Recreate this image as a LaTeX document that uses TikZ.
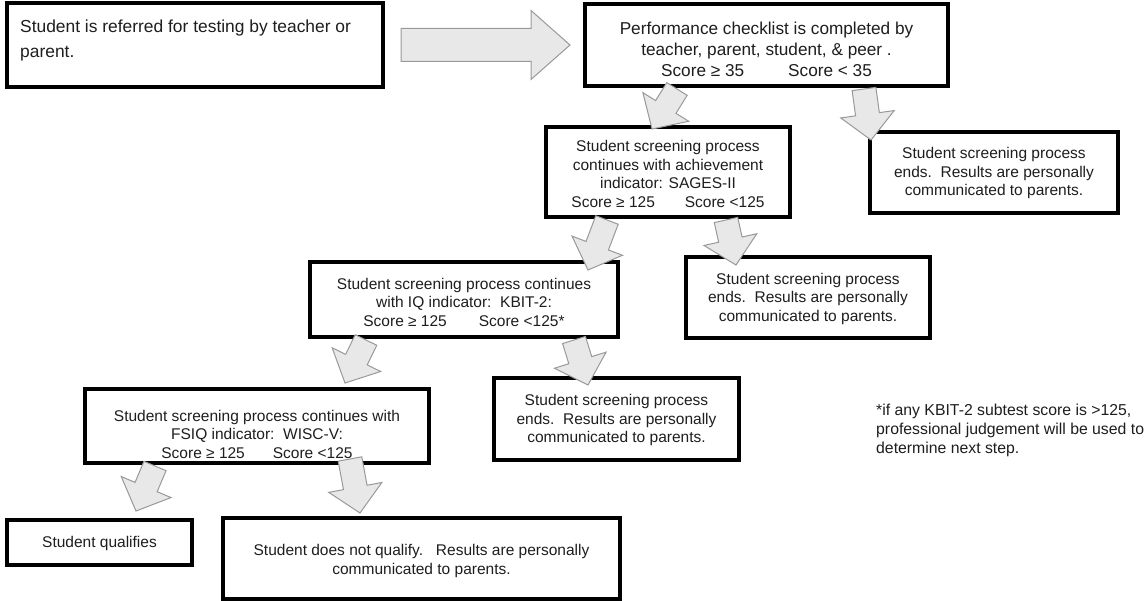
\documentclass[tikz,border=0pt]{standalone}
\usepackage{fontspec}
\setmainfont{Liberation Sans}
\usetikzlibrary{calc}
\definecolor{arrfill}{HTML}{E8E8E8}
\definecolor{arrline}{HTML}{999999}
\definecolor{txtc}{HTML}{1E1E1E}
\tikzset{
  box/.style={draw=black, line width=4pt, fill=white, inner sep=0pt, line join=miter},
  txt/.style={inner sep=0pt, text=txtc, align=center, font=\fontsize{15.5}{18.5}\selectfont},
  bigtxt/.style={txt, font=\fontsize{17.2}{21}\selectfont},
  atxt/.style={txt, align=left, font=\fontsize{17.4}{25}\selectfont},
  notetxt/.style={txt, align=left, font=\fontsize{15.8}{19}\selectfont},
  blockarrow/.style={fill=arrfill, draw=arrline, line width=1pt, line join=miter},
}
% #1 id, #2 tail, #3 tip, #4 half shaft width, #5 half head width, #6 head length
\newcommand{\barrow}[6]{%
  \coordinate (#1H) at ($(#3)!#6!(#2)$);
  \draw[blockarrow] ($(#2)!#4!90:(#3)$) -- ($(#1H)!#4!90:(#3)$) -- ($(#1H)!#5!90:(#3)$)
    -- (#3) -- ($(#1H)!#5!-90:(#3)$) -- ($(#1H)!#4!-90:(#3)$) -- ($(#2)!#4!-90:(#3)$) -- cycle;}
\begin{document}
\begin{tikzpicture}[x=1pt,y=-1pt]
\useasboundingbox[fill=white] (0,0) rectangle (1148,601);

% boxes
\node[box, minimum width=376pt, minimum height=84pt] (A) at (195,45) {};
\node[box, minimum width=363pt, minimum height=82pt] (B) at (766.5,45) {};
\node[box, minimum width=244pt, minimum height=90pt] (C) at (668,172) {};
\node[box, minimum width=248pt, minimum height=81pt] (D) at (994,172.5) {};
\node[box, minimum width=308pt, minimum height=75pt] (E) at (464,299.5) {};
\node[box, minimum width=244pt, minimum height=81pt] (F) at (808,297.5) {};
\node[box, minimum width=344pt, minimum height=74pt] (G) at (257,426) {};
\node[box, minimum width=245pt, minimum height=82pt] (H) at (616.5,419) {};
\node[box, minimum width=185pt, minimum height=45pt] (I) at (99.5,542.5) {};
\node[box, minimum width=397pt, minimum height=81pt] (J) at (421.5,558.5) {};

% texts
\node[atxt, anchor=west] (AT) at (20,40.5) {Student is referred for testing by teacher or\\parent.};
\node[bigtxt] (BT) at (766.5,49) {Performance checklist is completed by\\teacher, parent, student, \& peer .\\Score ≥ 35\hspace{44pt}Score < 35};
\node[txt] (CT) at (668,174) {Student screening process\\continues with achievement\\indicator: SAGES-II\\Score ≥ 125\hspace{30pt}Score <125};
\node[txt] (DT) at (994,173) {Student screening process\\ends.\ \ Results are personally\\communicated to parents.};
\node[txt] (ET) at (464,302) {Student screening process continues\\with IQ indicator:\ \ KBIT-2:\\Score ≥ 125\hspace{32pt}Score <125*};
\node[txt] (FT) at (808,298.5) {Student screening process\\ends.\ \ Results are personally\\communicated to parents.};
\node[txt] (GT) at (257,434) {Student screening process continues with\\FSIQ indicator:\ \ WISC-V:\\Score ≥ 125\hspace{28pt}Score <125};
\node[txt] (HT) at (616.5,420) {Student screening process\\ends.\ \ Results are personally\\communicated to parents.};
\node[txt] (IT) at (99.5,543) {Student qualifies};
\node[txt] (JT) at (421.5,561) {Student does not qualify.\ \ \ Results are personally\\communicated to parents.};
\node[notetxt, anchor=west] (NT) at (876,430) {*if any KBIT-2 subtest score is >125,\\professional judgement will be used to\\determine next step.};

% connector end points
\coordinate (a0s) at ($(A.east)+(16,0)$);
\coordinate (a0e) at ($(B.west)+(-13,0)$);
\coordinate (a1s) at ($(B.south west)+(94,1)$);
\coordinate (a1e) at ($(C.north west)+(108,4)$);
\coordinate (a2s) at ($(B.south west)+(281,1)$);
\coordinate (a2e) at ($(D.north west)+(3,10)$);
\coordinate (a3s) at ($(C.south west)+(63,1)$);
\coordinate (a3e) at ($(E.north east)+(-32,10)$);
\coordinate (a4s) at ($(C.south west)+(182,1)$);
\coordinate (a4e) at ($(F.north west)+(52,10)$);
\coordinate (a5s) at ($(E.south west)+(58,1)$);
\coordinate (a5e) at ($(G.north west)+(262,-4)$);
\coordinate (a6s) at ($(E.south west)+(266,1)$);
\coordinate (a6e) at ($(H.north west)+(96,9)$);
\coordinate (a7s) at ($(G.south west)+(72,1)$);
\coordinate (a7e) at ($(I.north west)+(131,-7)$);
\coordinate (a8s) at ($(G.south west)+(267,-6)$);
\coordinate (a8e) at ($(J.north west)+(139,-3)$);

% block arrows
\barrow{a0}{a0s}{a0e}{16.5pt}{34.5pt}{39pt}
\barrow{a1}{a1s}{a1e}{12pt}{27pt}{26pt}
\barrow{a2}{a2s}{a2e}{12pt}{27pt}{26pt}
\barrow{a3}{a3s}{a3e}{12pt}{27pt}{26pt}
\barrow{a4}{a4s}{a4e}{12pt}{27pt}{26pt}
\barrow{a5}{a5s}{a5e}{12pt}{27pt}{26pt}
\barrow{a6}{a6s}{a6e}{12pt}{27pt}{26pt}
\barrow{a7}{a7s}{a7e}{12pt}{27pt}{26pt}
\barrow{a8}{a8s}{a8e}{12pt}{27pt}{26pt}
\end{tikzpicture}
\end{document}
